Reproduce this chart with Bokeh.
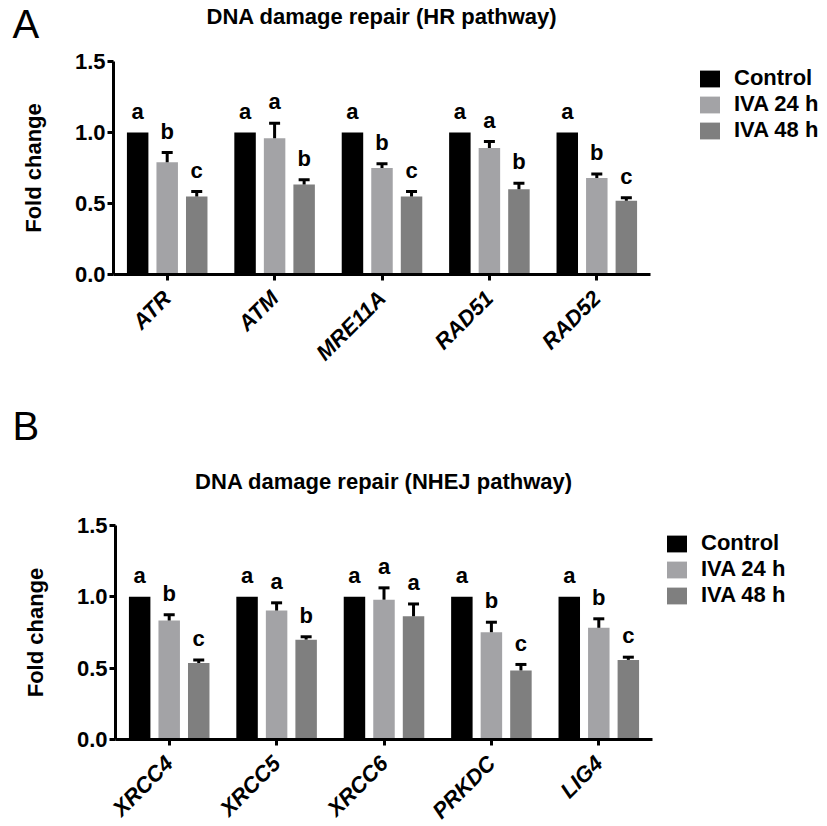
from math import pi
from bokeh.plotting import figure
from bokeh.models import (ColumnDataSource, Range1d, FixedTicker, Whisker, TeeHead,
                          Legend, LegendItem)
from bokeh.layouts import column
from bokeh.embed import file_html
from bokeh.resources import INLINE
from bokeh.core.properties import value

# ---------------- data ----------------
series = ["Control", "IVA 24 h", "IVA 48 h"]
colors = ["#000000", "#a3a3a6", "#7f7f7f"]

y_ticks = [0.0, 0.5, 1.0, 1.5]
y_tick_labels = ["0.0", "0.5", "1.0", "1.5"]

# Panel A: HR pathway
hr_genes = ["ATR", "ATM", "MRE11A", "RAD51", "RAD52"]
hr_control = [1.0, 1.0, 1.0, 1.0, 1.0]
hr_iva24 = [0.79, 0.96, 0.75, 0.89, 0.68]
hr_iva24_sem = [0.07, 0.105, 0.03, 0.047, 0.028]
hr_iva48 = [0.55, 0.634, 0.55, 0.60, 0.52]
hr_iva48_sem = [0.035, 0.033, 0.035, 0.043, 0.02]
hr_let_control = ["a", "a", "a", "a", "a"]
hr_let_iva24 = ["b", "a", "b", "a", "b"]
hr_let_iva48 = ["c", "b", "c", "b", "c"]

# Panel B: NHEJ pathway
nhej_genes = ["XRCC4", "XRCC5", "XRCC6", "PRKDC", "LIG4"]
nhej_control = [1.0, 1.0, 1.0, 1.0, 1.0]
nhej_iva24 = [0.834, 0.904, 0.98, 0.752, 0.783]
nhej_iva24_sem = [0.04, 0.054, 0.083, 0.07, 0.063]
nhej_iva48 = [0.537, 0.70, 0.864, 0.484, 0.558]
nhej_iva48_sem = [0.021, 0.02, 0.086, 0.042, 0.019]
nhej_let_control = ["a", "a", "a", "a", "a"]
nhej_let_iva24 = ["b", "a", "a", "b", "b"]
nhej_let_iva48 = ["c", "b", "a", "c", "c"]

FONT = "Liberation Sans"
W = 827
CAT_PX = 107.4
offsets = [-0.275, 0.0, 0.275]
BAR_W = 0.2
LET_GAP = 0.15
Y_MAX = 1.5


def make_panel(genes, means, sems, letters, title, tag, height,
               ax_left, y_top, y_zero, tag_pos, title_base, legend_pos):
    """All layout positions are in canvas pixels (from top-left)."""
    ppu = (y_zero - y_top) / Y_MAX
    x_start = -0.5 - ax_left / CAT_PX
    x_end = -0.5 + (W - ax_left) / CAT_PX
    y_start = -(height - y_zero) / ppu
    y_end = Y_MAX + y_top / ppu

    def dx(px):
        return -0.5 + (px - ax_left) / CAT_PX

    def dy(py):
        return Y_MAX - (py - y_top) / ppu

    p = figure(width=W, height=height, output_backend="svg", toolbar_location=None,
               x_range=Range1d(x_start, x_end), y_range=Range1d(y_start, y_end),
               min_border_left=0, min_border_right=0,
               min_border_top=0, min_border_bottom=0)
    p.outline_line_color = None
    p.grid.visible = False
    p.background_fill_color = "white"
    p.border_fill_color = "white"

    idx = list(range(len(genes)))
    items = []
    for k in range(3):
        xs = [i + offsets[k] for i in idx]
        vals = means[k]
        src = ColumnDataSource(dict(x=xs, top=vals))
        r = p.vbar(x="x", top="top", width=BAR_W, bottom=0, source=src,
                   fill_color=colors[k], line_color=None)
        items.append(LegendItem(label=series[k], renderers=[r]))
        tops = list(vals)
        if sems[k] is not None:
            upper = [v + s for v, s in zip(vals, sems[k])]
            wsrc = ColumnDataSource(dict(x=xs, lower=vals, upper=upper))
            w = Whisker(source=wsrc, base="x", lower="lower", upper="upper",
                        line_width=3, line_color="black",
                        upper_head=TeeHead(size=11, line_width=3, line_color="black"),
                        lower_head=None, level="glyph")
            p.add_layout(w)
            tops = upper
        lsrc = ColumnDataSource(dict(x=xs, y=[t + LET_GAP for t in tops], t=letters[k]))
        p.text(x="x", y="y", text="t", source=lsrc, text_font=value(FONT),
               text_font_style="bold", text_font_size="22px", text_align="center",
               text_baseline="alphabetic", text_color="black")

    # axes, pinned at x = -0.5 and y = 0
    for ax in (p.xaxis[0], p.yaxis[0]):
        ax.axis_line_width = 3
        ax.axis_line_color = "black"
        ax.major_tick_line_width = 3
        ax.major_tick_line_color = "black"
        ax.major_tick_in = 0
        ax.major_tick_out = 6
        ax.minor_tick_line_color = None
        ax.major_label_text_font = FONT
        ax.major_label_text_font_size = "22px"
        ax.major_label_text_color = "black"
    p.yaxis.fixed_location = -0.5
    p.yaxis.bounds = (0, Y_MAX)
    p.yaxis.ticker = FixedTicker(ticks=y_ticks)
    p.yaxis.major_label_overrides = {t: l for t, l in zip(y_ticks, y_tick_labels)}
    p.yaxis.major_label_text_font_style = "bold"
    p.yaxis.major_label_standoff = 2
    p.yaxis.axis_label = "Fold change"
    p.yaxis.axis_label_text_font = FONT
    p.yaxis.axis_label_text_font_size = "22px"
    p.yaxis.axis_label_text_font_style = "bold"
    p.yaxis.axis_label_text_color = "black"
    p.yaxis.axis_label_standoff = 26
    p.xaxis.fixed_location = 0
    p.xaxis.bounds = (-0.5, len(genes) - 0.5)
    p.xaxis.ticker = FixedTicker(ticks=idx)
    p.xaxis.major_label_overrides = {i: g for i, g in zip(idx, genes)}
    p.xaxis.major_label_text_font_style = "bold italic"
    p.xaxis.major_label_orientation = pi / 4
    p.xaxis.major_label_standoff = 14

    # panel tag and title
    tsrc = ColumnDataSource(dict(x=[dx(tag_pos[0])], y=[dy(tag_pos[1])], t=[tag]))
    p.text(x="x", y="y", text="t", source=tsrc, text_font=value(FONT),
           text_font_size="40px", text_align="left", text_baseline="alphabetic",
           text_color="black")
    hsrc = ColumnDataSource(dict(x=[dx(ax_left + 2.5 * CAT_PX)], y=[dy(title_base)],
                                 t=[title]))
    p.text(x="x", y="y", text="t", source=hsrc, text_font=value(FONT),
           text_font_style="bold", text_font_size="22px", text_align="center",
           text_baseline="alphabetic", text_color="black")

    # legend (location measured from the frame's bottom-left corner)
    leg_h = 75
    legend = Legend(items=items,
                    location=(legend_pos[0], height - legend_pos[1] - leg_h),
                    glyph_width=25, glyph_height=21, label_standoff=12,
                    label_text_font=FONT, label_text_font_size="22px",
                    label_text_font_style="bold", label_text_color="black",
                    label_height=21, spacing=0, padding=0, margin=0,
                    border_line_color=None, background_fill_alpha=0)
    p.add_layout(legend)
    return p


pA = make_panel(hr_genes, [hr_control, hr_iva24, hr_iva48],
                [None, hr_iva24_sem, hr_iva48_sem],
                [hr_let_control, hr_let_iva24, hr_let_iva48],
                "DNA damage repair (HR pathway)", "A", 396,
                113, 61, 274, (12, 23), 16, (697, 68))
pB = make_panel(nhej_genes, [nhej_control, nhej_iva24, nhej_iva48],
                [None, nhej_iva24_sem, nhej_iva48_sem],
                [nhej_let_control, nhej_let_iva24, nhej_let_iva48],
                "DNA damage repair (NHEJ pathway)", "B", 428,
                115, 129, 343, (12, 29), 85, (664, 137))

layout = column(pA, pB, spacing=0)
with open("out.html", "w") as f:
    f.write(file_html(layout, INLINE))
